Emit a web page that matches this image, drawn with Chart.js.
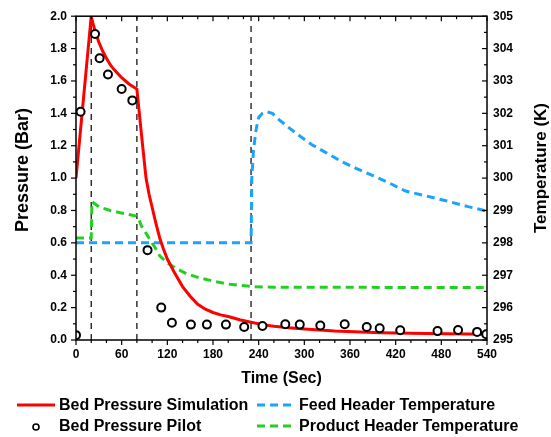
<!DOCTYPE html>
<html>
<head>
<meta charset="utf-8">
<script src="https://cdn.jsdelivr.net/npm/chart.js@4"></script>
<style>
  body { margin: 0; background: #fff; }
  #wrap { position: relative; width: 551px; height: 437px; font-family: "Liberation Sans", Arial, sans-serif; font-weight: bold; color: #000; }
  #chart { position: absolute; left: 0; top: 0; }
  .ytitle { position: absolute; width: 200px; height: 22px; line-height: 22px; text-align: center; transform: rotate(-90deg); white-space: nowrap; }
  .leg { position: absolute; font-size: 16px; line-height: 20px; white-space: nowrap; }
  .sample { position: absolute; }
</style>
</head>
<body>
<div id="wrap">
  <canvas id="chart" width="551" height="437"></canvas>
  <div class="ytitle" style="left:-78px; top:159px; font-size:18px;">Pressure (Bar)</div>
  <div class="ytitle" style="left:441px; top:157px; font-size:17px;">Temperature (K)</div>

  <svg class="sample" style="left:15px; top:398px;" width="42" height="14"><line x1="2" y1="7" x2="40" y2="7" stroke="#ff0000" stroke-width="3"/></svg>
  <div class="leg" style="left:59px; top:395px;">Bed Pressure Simulation</div>
  <svg class="sample" style="left:255px; top:398px;" width="42" height="14"><line x1="2" y1="7" x2="40" y2="7" stroke="#1aa3ff" stroke-width="3" stroke-dasharray="8,5"/></svg>
  <div class="leg" style="left:299px; top:395px;">Feed Header Temperature</div>

  <svg class="sample" style="left:29px; top:420px;" width="14" height="14"><circle cx="7" cy="7" r="3" fill="#fff" stroke="#000" stroke-width="1.6"/></svg>
  <div class="leg" style="left:59px; top:416px;">Bed Pressure Pilot</div>
  <svg class="sample" style="left:255px; top:419px;" width="42" height="14"><line x1="2" y1="7" x2="40" y2="7" stroke="#22d022" stroke-width="3" stroke-dasharray="8,5"/></svg>
  <div class="leg" style="left:299px; top:416px;">Product Header Temperature</div>
</div>
<script>
// bed pressure, simulation (Bar)
const simTime = [0, 20, 22, 25, 30, 35, 40, 45, 50, 60, 70, 80, 86, 92, 96, 100, 105, 110, 115, 120, 130, 140, 150, 160, 170, 180, 190, 200, 215, 230, 245, 260, 280, 300, 340, 400, 460, 540];
const simPressure = [1.0, 2.0, 1.96, 1.91, 1.84, 1.785, 1.74, 1.70, 1.67, 1.62, 1.58, 1.55, 1.27, 1.0, 0.9, 0.82, 0.72, 0.63, 0.56, 0.5, 0.41, 0.33, 0.27, 0.22, 0.19, 0.17, 0.155, 0.145, 0.125, 0.11, 0.095, 0.085, 0.075, 0.068, 0.055, 0.045, 0.04, 0.035];

// bed pressure, pilot plant (Bar)
const pilotTime = [0, 6, 25, 31, 42, 60, 74, 94, 112, 126, 151, 172, 197, 221, 245, 275, 294, 321, 353, 382, 399, 426, 475, 502, 527, 539];
const pilotPressure = [0.03, 1.41, 1.89, 1.74, 1.64, 1.55, 1.48, 0.555, 0.2, 0.107, 0.095, 0.095, 0.095, 0.08, 0.086, 0.097, 0.095, 0.09, 0.097, 0.08, 0.072, 0.06, 0.055, 0.062, 0.05, 0.035];

// feed header temperature (K)
const feedTime = [0, 230, 231, 233, 235, 237, 240, 245, 250, 258, 267, 280, 294, 310, 329, 350, 368, 390, 407, 433, 460, 486, 515, 540];
const feedTemp = [298, 298, 300.0, 300.8, 301.2, 301.55, 301.87, 302.0, 302.05, 302.0, 301.8, 301.55, 301.3, 301.03, 300.78, 300.5, 300.3, 300.08, 299.9, 299.6, 299.45, 299.3, 299.12, 298.98];

// product header temperature (K)
const prodTime = [0, 20, 21, 31, 45, 58, 79, 83, 86, 92, 97, 104, 110, 120, 130, 145, 162, 180, 202, 232, 260, 540];
const prodTemp = [298.15, 298.15, 299.27, 299.1, 299.0, 298.93, 298.83, 298.7, 298.52, 298.3, 298.1, 297.85, 297.6, 297.38, 297.23, 297.05, 296.92, 296.82, 296.72, 296.65, 296.63, 296.62];

// step times marked with dashed lines
const stepTimes = [20, 80, 230];

const xTicks = { min: 0, max: 540, step: 60, minor: 20 };
const pTicks = { min: 0, max: 2, step: 0.2 };
const tTicks = { min: 295, max: 305, step: 1 };

const pts = (xs, ys) => xs.map((x, i) => ({ x: x, y: ys[i] }));
const tickFont = { family: '"Liberation Sans", Arial, sans-serif', size: 12, weight: 'bold' };

// box round the plot plus major/minor tick marks
const frameTicks = {
  id: 'frameTicks',
  afterDatasetsDraw(chart) {
    const { ctx, chartArea: a, scales } = chart;
    ctx.save();
    ctx.strokeStyle = '#000';
    ctx.lineWidth = 1.5;
    ctx.strokeRect(a.left, a.top, a.right - a.left, a.bottom - a.top);
    ctx.lineWidth = 1.2;
    const line = (x1, y1, x2, y2) => { ctx.beginPath(); ctx.moveTo(x1, y1); ctx.lineTo(x2, y2); ctx.stroke(); };
    for (let v = xTicks.min; v <= xTicks.max; v += xTicks.minor) {
      const x = scales.x.getPixelForValue(v);
      const len = v % xTicks.step === 0 ? 5 : 3;
      line(x, a.bottom, x, a.bottom + len);
      line(x, a.top, x, a.top + len);
    }
    for (let i = 0; i <= 20; i++) {
      const y = scales.y.getPixelForValue(i / 10);
      line(a.left, y, a.left - (i % 2 === 0 ? 5 : 3), y);
      const y2 = scales.y2.getPixelForValue(295 + i / 2);
      line(a.right, y2, a.right - (i % 2 === 0 ? 5 : 3), y2);
    }
    ctx.restore();
  }
};

const datasets = [
  {
    label: 'Bed Pressure Pilot',
    data: pts(pilotTime, pilotPressure),
    yAxisID: 'y',
    showLine: false,
    pointRadius: 4,
    pointBorderWidth: 2,
    pointBorderColor: '#000',
    pointBackgroundColor: '#fff',
    order: 0
  },
  {
    label: 'Bed Pressure Simulation',
    data: pts(simTime, simPressure),
    yAxisID: 'y',
    borderColor: '#ff0000',
    borderWidth: 3,
    pointRadius: 0,
    order: 1
  },
  {
    label: 'Feed Header Temperature',
    data: pts(feedTime, feedTemp),
    yAxisID: 'y2',
    borderColor: '#1aa3ff',
    borderWidth: 3,
    borderDash: [8, 5],
    pointRadius: 0,
    order: 2
  },
  {
    label: 'Product Header Temperature',
    data: pts(prodTime, prodTemp),
    yAxisID: 'y2',
    borderColor: '#22d022',
    borderWidth: 3,
    borderDash: [8, 5],
    pointRadius: 0,
    order: 3
  }
];

stepTimes.forEach(t => {
  datasets.push({
    label: 'step ' + t,
    data: [{ x: t, y: pTicks.min }, { x: t, y: pTicks.max }],
    yAxisID: 'y',
    borderColor: '#000',
    borderWidth: 1.2,
    borderDash: [6, 5],
    pointRadius: 0,
    order: 4
  });
});

new Chart(document.getElementById('chart'), {
  type: 'line',
  data: { datasets },
  plugins: [frameTicks],
  options: {
    responsive: false,
    animation: false,
    layout: { padding: { top: 15, bottom: 47, left: 0, right: 0 } },
    plugins: { legend: { display: false }, tooltip: { enabled: false } },
    scales: {
      x: {
        type: 'linear',
        min: xTicks.min,
        max: xTicks.max,
        ticks: { stepSize: xTicks.step, font: tickFont, color: '#000', padding: 7, maxRotation: 0 },
        grid: { display: false, drawTicks: false },
        border: { display: false },
        title: { display: true, text: 'Time (Sec)', color: '#000', font: { family: tickFont.family, size: 16, weight: 'bold' }, padding: { top: 0, bottom: 2 } },
        afterFit(s) { s.height = 50; }
      },
      y: {
        position: 'left',
        min: pTicks.min,
        max: pTicks.max,
        ticks: { stepSize: pTicks.step, font: tickFont, color: '#000', padding: 9, callback: v => v.toFixed(1) },
        grid: { display: false, drawTicks: false },
        border: { display: false },
        afterFit(s) { s.width = 76; }
      },
      y2: {
        position: 'right',
        min: tTicks.min,
        max: tTicks.max,
        ticks: { stepSize: tTicks.step, font: tickFont, color: '#000', padding: 6 },
        grid: { display: false, drawTicks: false },
        border: { display: false },
        afterFit(s) { s.width = 64; }
      }
    }
  }
});
</script>
</body>
</html>
